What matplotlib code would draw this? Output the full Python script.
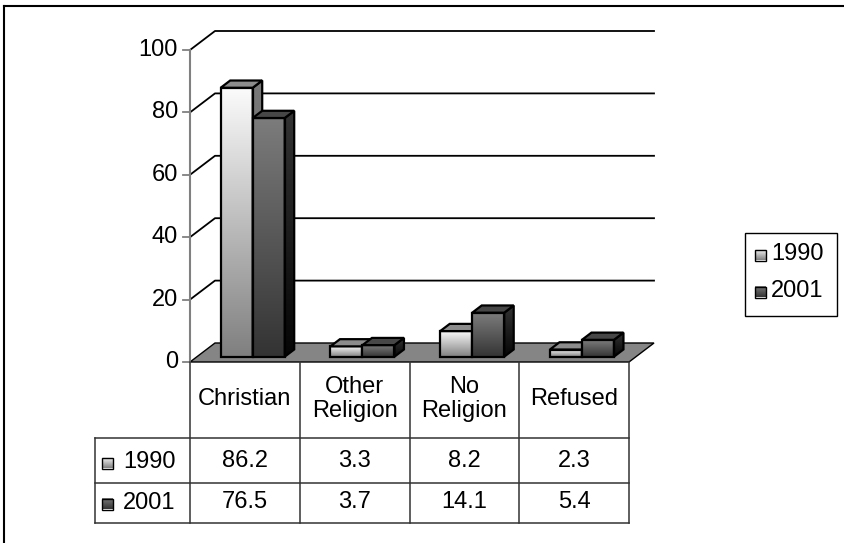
import numpy as np
import matplotlib
matplotlib.use("Agg")
import matplotlib.pyplot as plt
from matplotlib.patches import Polygon, Rectangle
from matplotlib.colors import LinearSegmentedColormap
from matplotlib.transforms import Affine2D, blended_transform_factory

# ---------------- data ----------------
categories = ["Christian", "Other\nReligion", "No\nReligion", "Refused"]
series_names = ["1990", "2001"]
values_1990 = [86.2, 3.3, 8.2, 2.3]
values_2001 = [76.5, 3.7, 14.1, 5.4]
table_labels_1990 = ["86.2", "3.3", "8.2", "2.3"]
table_labels_2001 = ["76.5", "3.7", "14.1", "5.4"]
y_ticks = [0, 20, 40, 60, 80, 100]

# ---------------- styles ----------------
plt.rcParams['font.family'] = ['Liberation Sans', 'DejaVu Sans']
FS = 17
styles = [
    dict(front=("#7f7f7f", "#fbfbfb"), side=("#555555", "#7a7a7a"), top="#8c8c8c"),
    dict(front=("#333333", "#7c7c7c"), side=("#050505", "#343434"), top="#474747"),
]

W, H = 844, 543
fig = plt.figure(figsize=(W / 100, H / 100), dpi=100)
ax = fig.add_axes([0, 0, 1, 1])
ax.axis('off')

# layout (pixels)
X0, PX_CAT = 190.0, 109.75   # front-left of floor, pixels per category
Y0, PX_VAL = 362.0, 3.12     # value 0 at front, pixels per unit
ax.set_xlim(-X0 / PX_CAT, (W - X0) / PX_CAT)
ax.set_ylim((Y0 - H) / PX_VAL, Y0 / PX_VAL)
ax.set_autoscale_on(False)
DX = 25 / PX_CAT
DY = 19 / PX_VAL

pix = Affine2D().scale(1 / W, -1 / H).translate(0, 1) + fig.transFigure
data_x_pix_y = blended_transform_factory(ax.transData, pix)
pix_x_data_y = blended_transform_factory(pix, ax.transData)


def P(u, v, z):
    return (u + z * DX, v + z * DY)


ncat = len(categories)

# outer frame (top and left only visible)
ax.plot([4, W], [6, 6], color="black", lw=1.5, transform=pix, clip_on=False)
ax.plot([4, 4], [6, H], color="black", lw=1.5, transform=pix, clip_on=False)

# floor
floor = Polygon([P(0, 0, 0), P(ncat, 0, 0), P(ncat, 0, 1), P(0, 0, 1)],
                closed=True, facecolor="#858585", edgecolor="black", lw=1.0, zorder=1)
ax.add_patch(floor)

# gridlines: side wall diagonal + back wall horizontal
for v in y_ticks[1:]:
    xs, ys = zip(P(0, v, 0), P(0, v, 1), P(ncat, v, 1))
    ax.plot(xs, ys, color="black", lw=1.3, zorder=1.5)

# value axis (front)
ax.plot([0, 0], [0, y_ticks[-1]], color="#808080", lw=1.5, zorder=1.6)
for v in y_ticks:
    ax.plot([183, 190], [v, v], color="#808080", lw=1.3, transform=pix_x_data_y)
    ax.text(178, v, str(v), ha="right", va="center", fontsize=FS,
            transform=pix_x_data_y)

# bars
grad = np.linspace(0, 1, 256).reshape(-1, 1)
BW = 0.2916
LEFT = 0.216
Z0, Z1 = 0.28, 0.66
zo = 3
for i in range(ncat):
    for s, vals in enumerate([values_1990, values_2001]):
        val = vals[i]
        st = styles[s]
        u0 = i + LEFT + s * BW
        u1 = u0 + BW
        # front face
        (fx0, fy0) = P(u0, 0, Z0)
        (fx1, fy1) = P(u1, val, Z0)
        cm = LinearSegmentedColormap.from_list("f", list(st["front"]))
        ax.imshow(grad, extent=[fx0, fx1, fy0, fy1], origin="lower", cmap=cm,
                  aspect="auto", zorder=zo, interpolation="bilinear")
        ax.add_patch(Rectangle((fx0, fy0), fx1 - fx0, fy1 - fy0, fill=False,
                               edgecolor="black", lw=1.6, zorder=zo + 0.5))
        # side face
        side_pts = [P(u1, 0, Z0), P(u1, 0, Z1), P(u1, val, Z1), P(u1, val, Z0)]
        side = Polygon(side_pts, closed=True, facecolor="none", edgecolor="black",
                       lw=1.6, zorder=zo + 0.5)
        ax.add_patch(side)
        sx = [p[0] for p in side_pts]
        sy = [p[1] for p in side_pts]
        cms = LinearSegmentedColormap.from_list("s", list(st["side"]))
        im = ax.imshow(grad, extent=[min(sx), max(sx), min(sy), max(sy)], origin="lower",
                       cmap=cms, aspect="auto", zorder=zo, interpolation="bilinear")
        clip = Polygon(side_pts, closed=True, transform=ax.transData)
        im.set_clip_path(clip)
        # top face
        top = Polygon([P(u0, val, Z0), P(u1, val, Z0), P(u1, val, Z1), P(u0, val, Z1)],
                      closed=True, facecolor=st["top"], edgecolor="black", lw=1.6,
                      zorder=zo + 0.5)
        ax.add_patch(top)
        zo += 1

# ---------------- data table ----------------
TLINE = "#333333"
row_y = [438, 483, 523]
for k in range(ncat + 1):
    ax.plot([k, k], [Y0, 523], color=TLINE, lw=1.1, transform=data_x_pix_y)
for yy in row_y:
    ax.plot([-(X0 - 95) / PX_CAT, ncat], [yy, yy], color=TLINE, lw=1.1,
            transform=data_x_pix_y)
ax.plot([95, 95], [438, 523], color=TLINE, lw=1.1, transform=pix)

for i, c in enumerate(categories):
    ax.text(i + 0.5, 399, c, ha="center", va="center", fontsize=FS,
            transform=data_x_pix_y, linespacing=1.12)
for i in range(ncat):
    ax.text(i + 0.5, 461, table_labels_1990[i], ha="center", va="center",
            fontsize=FS, transform=data_x_pix_y)
    ax.text(i + 0.5, 502, table_labels_2001[i], ha="center", va="center",
            fontsize=FS, transform=data_x_pix_y)


def swatch(x, y, s, st):
    cm = LinearSegmentedColormap.from_list("k", list(st["front"]))
    ax.imshow(grad, extent=[x, x + 11, y + 5.5, y - 5.5], origin="lower", cmap=cm,
              aspect="auto", transform=pix, zorder=20, clip_on=False)
    ax.add_patch(Rectangle((x, y - 5.5), 11, 11, fill=False, edgecolor="black",
                           lw=1.0, transform=pix, zorder=21, clip_on=False))


for s, yy in enumerate([463, 504]):
    swatch(102, yy, s, styles[s])
    ax.text(123, yy - 1, series_names[s], ha="left", va="center", fontsize=FS,
            transform=pix)

# ---------------- legend ----------------
ax.add_patch(Rectangle((745, 233), 92, 83, facecolor="white", edgecolor="black",
                       lw=1.0, transform=pix, clip_on=False, zorder=19))
for s, yy in enumerate([255, 292]):
    swatch(755, yy, s, styles[s])
    ax.text(771, yy - 1, series_names[s], ha="left", va="center", fontsize=FS,
            transform=pix, zorder=22)

fig.savefig("out.png", dpi=100)
